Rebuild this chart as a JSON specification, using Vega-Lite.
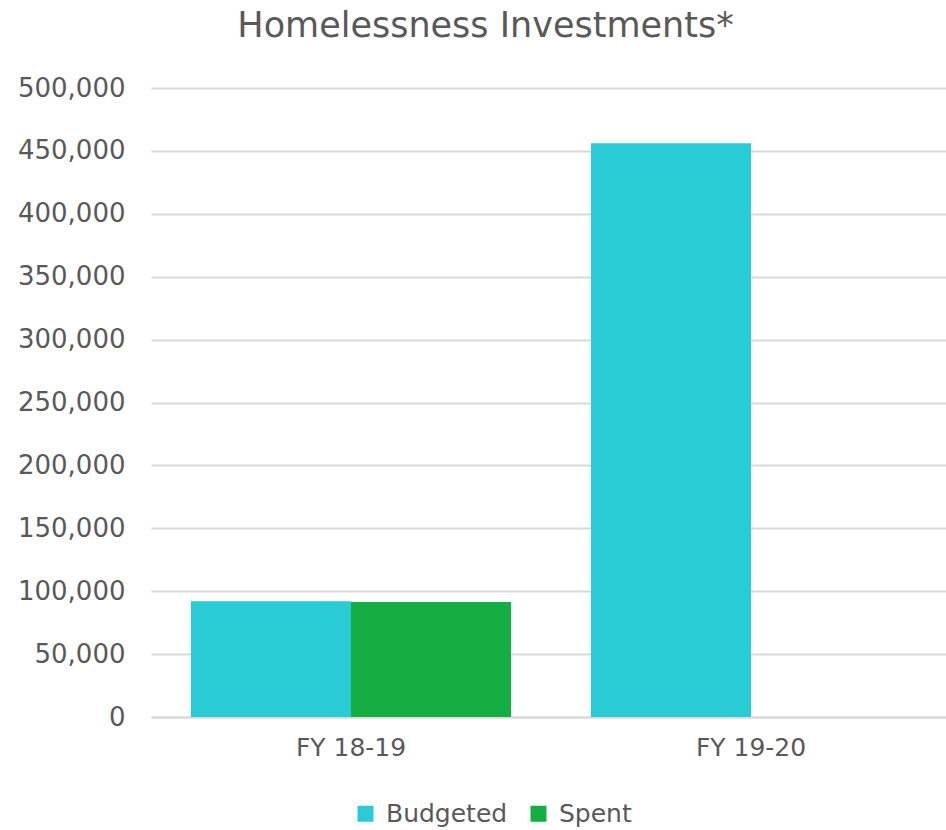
{
  "$schema": "https://vega.github.io/schema/vega-lite/v6.json",
  "autosize": "none",
  "width": 795,
  "height": 629,
  "padding": {"left": 151, "top": 88, "right": 0, "bottom": 113},
  "background": "white",
  "title": {
    "text": "Homelessness Investments*",
    "anchor": "middle",
    "dx": -63,
    "offset": 31,
    "fontSize": 35,
    "font": "DejaVu Sans",
    "fontWeight": "normal",
    "color": "#595959"
  },
  "data": {
    "values": [
      {"year": "FY 18-19", "type": "Budgeted", "value": 92000},
      {"year": "FY 18-19", "type": "Spent", "value": 91500},
      {"year": "FY 19-20", "type": "Budgeted", "value": 456000}
    ]
  },
  "mark": {"type": "bar"},
  "encoding": {
    "x": {
      "field": "year",
      "type": "nominal",
      "scale": {"paddingInner": 0.2, "paddingOuter": 0.1, "range": [0, 800]},
      "axis": {
        "title": null,
        "labelAngle": 0,
        "labelFontSize": 25,
        "labelFont": "DejaVu Sans",
        "labelColor": "#595959",
        "labelPadding": 18,
        "ticks": false,
        "domainColor": "#d9d9d9",
        "domainWidth": 2
      }
    },
    "xOffset": {"field": "type", "type": "nominal", "scale": {"paddingInner": 0, "paddingOuter": 0, "domain": ["Budgeted", "Spent"]}},
    "y": {
      "field": "value",
      "type": "quantitative",
      "scale": {"domain": [0, 500000]},
      "axis": {
        "title": null,
        "values": [0, 50000, 100000, 150000, 200000, 250000, 300000, 350000, 400000, 450000, 500000],
        "format": ",.0f",
        "labelFontSize": 26,
        "labelFont": "DejaVu Sans",
        "labelColor": "#595959",
        "labelPadding": 26,
        "ticks": false,
        "domain": false,
        "gridColor": "#d9d9d9",
        "gridWidth": 2
      }
    },
    "color": {
      "field": "type",
      "type": "nominal",
      "scale": {"domain": ["Budgeted", "Spent"], "range": ["#29CBD4", "#14AE43"]},
      "legend": {
        "title": null,
        "orient": "none",
        "direction": "horizontal",
        "legendX": 202,
        "legendY": 713,
        "symbolType": "square",
        "symbolSize": 256,
        "symbolStrokeWidth": 0,
        "labelFontSize": 25,
        "labelFont": "DejaVu Sans",
        "labelColor": "#595959",
        "columnPadding": 18,
        "labelOffset": 8
      }
    }
  },
  "config": {"view": {"stroke": null}}
}
